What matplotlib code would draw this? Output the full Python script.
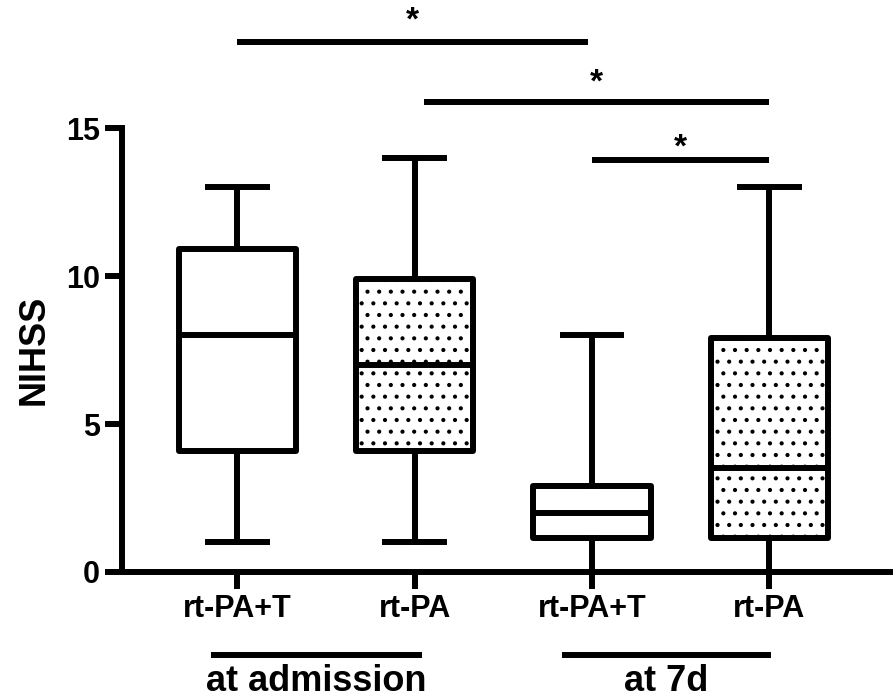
import matplotlib
matplotlib.use('Agg')
import matplotlib.pyplot as plt

# render at 70 dpi so the dot hatch gets the same spacing as the original;
# every size in points is scaled up by S to compensate
DPI = 70
S = 100 / DPI

plt.rcParams['font.family'] = ['Liberation Sans', 'DejaVu Sans']
plt.rcParams['font.weight'] = 'bold'
plt.rcParams['hatch.linewidth'] = 1.3 * S

# data
labels = ['rt-PA+T', 'rt-PA', 'rt-PA+T', 'rt-PA']
whislo = [1, 1, 0, 0]
q1 = [4.1, 4.1, 1.15, 1.15]
med = [8, 7, 2, 3.5]
q3 = [10.9, 9.9, 2.9, 7.9]
whishi = [13, 14, 8, 13]
hatches = ['', '.', '', '.']

groups = ['at admission', 'at 7d']
group_span = [(0.85, 2.04), (2.83, 4.01)]

sig_pairs = [(1, 2.98), (2.05, 4), (3, 4)]
sig_y = [17.9, 15.88, 13.92]
star_gap = [0.72, 0.64, 0.42]

lw = 4.3 * S

fig = plt.figure(figsize=(893 / DPI, 699 / DPI), dpi=DPI)
ax = fig.add_axes([0.1366, 0.1817, 0.86, 0.635])

stats = []
for i in range(len(labels)):
    stats.append(dict(whislo=whislo[i], q1=q1[i], med=med[i], q3=q3[i],
                      whishi=whishi[i], label=labels[i]))

bp = ax.bxp(stats, positions=[1, 2, 3, 4], widths=0.66, patch_artist=True,
            showfliers=False,
            boxprops=dict(linewidth=lw, edgecolor='black', facecolor='white',
                          joinstyle='round'),
            medianprops=dict(linewidth=lw, color='black'),
            whiskerprops=dict(linewidth=lw, color='black'),
            capprops=dict(linewidth=lw, color='black'),
            capwidths=0.33)
for box, h in zip(bp['boxes'], hatches):
    box.set_hatch(h)

ax.set_xlim(0.35, 4.68)
ax.set_ylim(0, 15)
ax.set_yticks([0, 5, 10, 15])
ax.spines['top'].set_visible(False)
ax.spines['right'].set_visible(False)
ax.spines['left'].set_linewidth(lw)
ax.spines['bottom'].set_linewidth(lw)
ax.spines['left'].set_capstyle('projecting')
ax.spines['bottom'].set_capstyle('projecting')
ax.tick_params(width=lw, length=12 * S, labelsize=22 * S, pad=4 * S)
for t in ax.get_xticklabels() + ax.get_yticklabels():
    t.set_fontweight('bold')
ax.set_ylabel('NIHSS', fontsize=26 * S, fontweight='bold', labelpad=10 * S)

# significance bars
for (a, b), y, g in zip(sig_pairs, sig_y, star_gap):
    ax.plot([a, b], [y, y], color='black', lw=lw, clip_on=False,
            solid_capstyle='butt')
    ax.text((a + b) / 2, y + g, '*', ha='center', va='center',
            fontsize=24 * S, fontweight='bold', clip_on=False)

# group labels under the axis
for name, (a, b) in zip(groups, group_span):
    ax.plot([a, b], [-2.8, -2.8], color='black', lw=lw, clip_on=False,
            solid_capstyle='butt')
    ax.text((a + b) / 2, -3.7, name, ha='center', va='center',
            fontsize=26 * S, fontweight='bold', clip_on=False)

fig.savefig('out.png', dpi=DPI)
